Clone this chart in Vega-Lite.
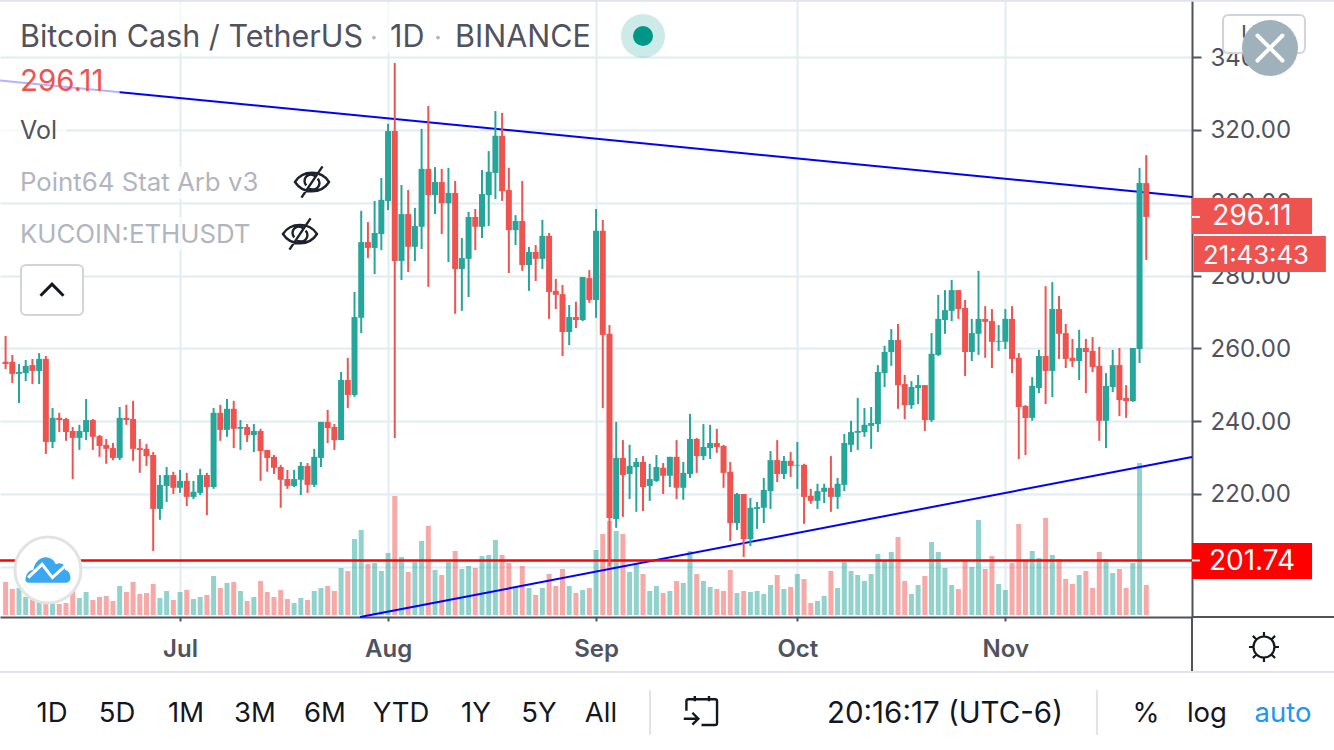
{
  "$schema": "https://vega.github.io/schema/vega-lite/v6.json",
  "width": 1192,
  "height": 617,
  "autosize": {"type": "none"},
  "padding": {"left": 0, "top": 0, "right": 142, "bottom": 133},
  "background": "#ffffff",
  "config": {"view": {"stroke": null}, "text": {"font": "Inter"}},
  "datasets": {
    "candles": [
      {"date":"2020-06-05","open":256.3,"high":263.4,"low":254.3,"close":255.7,"volume":33},
      {"date":"2020-06-06","open":256.3,"high":258.2,"low":250.5,"close":253.0,"volume":26},
      {"date":"2020-06-07","open":253.0,"high":255.7,"low":245.0,"close":253.5,"volume":27},
      {"date":"2020-06-08","open":253.2,"high":256.8,"low":251.0,"close":255.2,"volume":18},
      {"date":"2020-06-09","open":255.4,"high":257.1,"low":250.2,"close":253.8,"volume":17},
      {"date":"2020-06-10","open":253.8,"high":258.7,"low":250.2,"close":257.1,"volume":15},
      {"date":"2020-06-11","open":257.1,"high":257.9,"low":231.0,"close":234.3,"volume":13},
      {"date":"2020-06-12","open":234.3,"high":243.6,"low":232.6,"close":240.9,"volume":13},
      {"date":"2020-06-13","open":240.9,"high":242.3,"low":237.0,"close":240.3,"volume":11},
      {"date":"2020-06-14","open":240.6,"high":240.9,"low":234.6,"close":237.0,"volume":12},
      {"date":"2020-06-15","open":237.3,"high":238.4,"low":224.1,"close":235.4,"volume":25},
      {"date":"2020-06-16","open":235.4,"high":239.0,"low":232.1,"close":237.3,"volume":17},
      {"date":"2020-06-17","open":237.0,"high":246.1,"low":234.8,"close":240.3,"volume":23},
      {"date":"2020-06-18","open":240.3,"high":240.6,"low":232.1,"close":235.7,"volume":15},
      {"date":"2020-06-19","open":235.9,"high":236.2,"low":230.2,"close":233.2,"volume":18},
      {"date":"2020-06-20","open":233.5,"high":235.1,"low":228.3,"close":232.4,"volume":19},
      {"date":"2020-06-21","open":232.6,"high":234.0,"low":229.3,"close":229.9,"volume":14},
      {"date":"2020-06-22","open":229.9,"high":243.9,"low":229.3,"close":240.9,"volume":29},
      {"date":"2020-06-23","open":240.9,"high":244.5,"low":239.0,"close":240.3,"volume":23},
      {"date":"2020-06-24","open":240.6,"high":245.6,"low":229.1,"close":232.4,"volume":33},
      {"date":"2020-06-25","open":232.6,"high":235.1,"low":225.8,"close":232.1,"volume":21},
      {"date":"2020-06-26","open":232.4,"high":233.7,"low":227.7,"close":230.4,"volume":22},
      {"date":"2020-06-27","open":230.7,"high":231.5,"low":204.3,"close":215.9,"volume":31},
      {"date":"2020-06-28","open":215.9,"high":225.2,"low":212.9,"close":222.5,"volume":17},
      {"date":"2020-06-29","open":222.2,"high":227.4,"low":217.8,"close":225.2,"volume":24},
      {"date":"2020-06-30","open":225.2,"high":226.1,"low":220.0,"close":221.7,"volume":15},
      {"date":"2020-07-01","open":221.7,"high":226.6,"low":220.3,"close":223.6,"volume":23},
      {"date":"2020-07-02","open":223.6,"high":225.8,"low":216.7,"close":219.2,"volume":25},
      {"date":"2020-07-03","open":219.2,"high":223.6,"low":218.6,"close":220.6,"volume":16},
      {"date":"2020-07-04","open":220.3,"high":226.9,"low":219.7,"close":225.2,"volume":18},
      {"date":"2020-07-05","open":225.2,"high":225.8,"low":214.2,"close":221.9,"volume":20},
      {"date":"2020-07-06","open":221.9,"high":243.6,"low":221.4,"close":242.3,"volume":39},
      {"date":"2020-07-07","open":242.3,"high":244.5,"low":234.6,"close":237.6,"volume":27},
      {"date":"2020-07-08","open":237.6,"high":246.1,"low":235.7,"close":243.4,"volume":32},
      {"date":"2020-07-09","open":243.4,"high":245.6,"low":232.6,"close":237.9,"volume":33},
      {"date":"2020-07-10","open":237.9,"high":240.3,"low":232.1,"close":238.4,"volume":24},
      {"date":"2020-07-11","open":238.4,"high":239.2,"low":234.3,"close":236.2,"volume":14},
      {"date":"2020-07-12","open":236.2,"high":239.2,"low":231.5,"close":237.3,"volume":18},
      {"date":"2020-07-13","open":237.3,"high":237.9,"low":223.6,"close":231.8,"volume":34},
      {"date":"2020-07-14","open":232.1,"high":232.1,"low":226.1,"close":229.9,"volume":23},
      {"date":"2020-07-15","open":230.2,"high":230.7,"low":225.5,"close":227.2,"volume":18},
      {"date":"2020-07-16","open":227.4,"high":228.0,"low":216.2,"close":223.9,"volume":25},
      {"date":"2020-07-17","open":224.1,"high":226.6,"low":221.4,"close":222.2,"volume":16},
      {"date":"2020-07-18","open":222.2,"high":226.6,"low":221.9,"close":224.1,"volume":12},
      {"date":"2020-07-19","open":223.9,"high":228.8,"low":219.7,"close":227.7,"volume":17},
      {"date":"2020-07-20","open":227.7,"high":228.5,"low":220.3,"close":222.5,"volume":15},
      {"date":"2020-07-21","open":222.5,"high":232.4,"low":221.9,"close":230.2,"volume":24},
      {"date":"2020-07-22","open":229.9,"high":239.8,"low":227.4,"close":239.8,"volume":27},
      {"date":"2020-07-23","open":239.8,"high":243.1,"low":234.0,"close":238.1,"volume":29},
      {"date":"2020-07-24","open":238.4,"high":239.2,"low":232.1,"close":234.8,"volume":24},
      {"date":"2020-07-25","open":234.8,"high":253.5,"low":234.8,"close":251.3,"volume":47},
      {"date":"2020-07-26","open":251.3,"high":257.4,"low":243.6,"close":247.2,"volume":44},
      {"date":"2020-07-27","open":247.2,"high":275.5,"low":246.7,"close":268.6,"volume":76},
      {"date":"2020-07-28","open":268.4,"high":297.8,"low":264.2,"close":289.2,"volume":85},
      {"date":"2020-07-29","open":289.2,"high":294.7,"low":284.8,"close":287.6,"volume":51},
      {"date":"2020-07-30","open":287.6,"high":300.5,"low":280.4,"close":291.7,"volume":52},
      {"date":"2020-07-31","open":291.4,"high":306.8,"low":287.0,"close":300.8,"volume":44},
      {"date":"2020-08-01","open":300.5,"high":321.7,"low":298.0,"close":319.7,"volume":62},
      {"date":"2020-08-02","open":319.7,"high":338.4,"low":235.4,"close":284.0,"volume":119},
      {"date":"2020-08-03","open":284.0,"high":304.9,"low":278.8,"close":296.9,"volume":58},
      {"date":"2020-08-04","open":296.9,"high":303.5,"low":281.0,"close":287.9,"volume":43},
      {"date":"2020-08-05","open":287.9,"high":298.6,"low":284.0,"close":293.6,"volume":53},
      {"date":"2020-08-06","open":293.4,"high":320.3,"low":287.3,"close":309.3,"volume":74},
      {"date":"2020-08-07","open":309.3,"high":326.6,"low":276.9,"close":302.1,"volume":89},
      {"date":"2020-08-08","open":302.1,"high":309.8,"low":296.9,"close":305.7,"volume":45},
      {"date":"2020-08-09","open":305.7,"high":309.3,"low":291.4,"close":299.9,"volume":40},
      {"date":"2020-08-10","open":299.9,"high":309.6,"low":283.7,"close":302.7,"volume":53},
      {"date":"2020-08-11","open":302.7,"high":306.0,"low":269.5,"close":281.8,"volume":64},
      {"date":"2020-08-12","open":281.8,"high":290.3,"low":270.3,"close":284.8,"volume":46},
      {"date":"2020-08-13","open":284.6,"high":297.5,"low":274.1,"close":296.1,"volume":49},
      {"date":"2020-08-14","open":296.1,"high":298.3,"low":287.0,"close":293.4,"volume":47},
      {"date":"2020-08-15","open":293.4,"high":309.0,"low":290.3,"close":302.4,"volume":59},
      {"date":"2020-08-16","open":302.1,"high":314.2,"low":293.6,"close":308.5,"volume":60},
      {"date":"2020-08-17","open":308.2,"high":325.2,"low":301.0,"close":318.4,"volume":75},
      {"date":"2020-08-18","open":318.4,"high":324.7,"low":300.5,"close":303.2,"volume":60},
      {"date":"2020-08-19","open":303.5,"high":309.6,"low":280.7,"close":292.5,"volume":52},
      {"date":"2020-08-20","open":292.5,"high":296.6,"low":288.4,"close":295.0,"volume":28},
      {"date":"2020-08-21","open":295.0,"high":306.0,"low":281.3,"close":282.9,"volume":49},
      {"date":"2020-08-22","open":282.9,"high":287.9,"low":275.8,"close":286.5,"volume":27},
      {"date":"2020-08-23","open":286.5,"high":288.4,"low":278.5,"close":284.6,"volume":20},
      {"date":"2020-08-24","open":284.6,"high":295.3,"low":281.8,"close":290.9,"volume":27},
      {"date":"2020-08-25","open":290.9,"high":291.7,"low":268.1,"close":275.5,"volume":41},
      {"date":"2020-08-26","open":275.8,"high":279.1,"low":270.8,"close":274.7,"volume":29},
      {"date":"2020-08-27","open":274.9,"high":277.4,"low":257.9,"close":264.5,"volume":46},
      {"date":"2020-08-28","open":264.5,"high":271.9,"low":260.9,"close":268.6,"volume":29},
      {"date":"2020-08-29","open":268.6,"high":272.8,"low":265.6,"close":267.8,"volume":22},
      {"date":"2020-08-30","open":267.8,"high":279.6,"low":267.5,"close":279.6,"volume":25},
      {"date":"2020-08-31","open":279.3,"high":281.5,"low":272.5,"close":273.3,"volume":27},
      {"date":"2020-09-01","open":273.3,"high":298.3,"low":268.4,"close":292.3,"volume":65},
      {"date":"2020-09-02","open":292.3,"high":295.3,"low":243.6,"close":263.7,"volume":81},
      {"date":"2020-09-03","open":264.0,"high":266.4,"low":200.2,"close":213.4,"volume":94},
      {"date":"2020-09-04","open":213.1,"high":239.8,"low":210.7,"close":229.9,"volume":84},
      {"date":"2020-09-05","open":229.9,"high":234.8,"low":213.7,"close":225.2,"volume":81},
      {"date":"2020-09-06","open":225.5,"high":233.5,"low":218.6,"close":227.7,"volume":43},
      {"date":"2020-09-07","open":227.4,"high":229.9,"low":215.1,"close":228.8,"volume":51},
      {"date":"2020-09-08","open":228.8,"high":230.4,"low":215.3,"close":221.9,"volume":41},
      {"date":"2020-09-09","open":222.2,"high":228.3,"low":218.1,"close":224.1,"volume":24},
      {"date":"2020-09-10","open":223.6,"high":230.7,"low":223.3,"close":227.4,"volume":29},
      {"date":"2020-09-11","open":227.2,"high":228.5,"low":220.0,"close":225.0,"volume":22},
      {"date":"2020-09-12","open":225.0,"high":230.2,"low":221.9,"close":230.2,"volume":24},
      {"date":"2020-09-13","open":230.2,"high":234.8,"low":218.6,"close":221.7,"volume":34},
      {"date":"2020-09-14","open":221.7,"high":228.8,"low":218.4,"close":225.8,"volume":32},
      {"date":"2020-09-15","open":225.5,"high":242.0,"low":224.4,"close":235.1,"volume":64},
      {"date":"2020-09-16","open":235.1,"high":235.4,"low":225.8,"close":230.4,"volume":41},
      {"date":"2020-09-17","open":230.4,"high":239.2,"low":229.3,"close":232.9,"volume":34},
      {"date":"2020-09-18","open":232.6,"high":239.0,"low":229.6,"close":234.0,"volume":28},
      {"date":"2020-09-19","open":234.0,"high":237.9,"low":231.3,"close":232.9,"volume":26},
      {"date":"2020-09-20","open":233.2,"high":233.5,"low":221.7,"close":225.8,"volume":24},
      {"date":"2020-09-21","open":226.1,"high":228.8,"low":207.1,"close":212.0,"volume":45},
      {"date":"2020-09-22","open":212.0,"high":220.3,"low":210.1,"close":220.0,"volume":22},
      {"date":"2020-09-23","open":220.0,"high":220.0,"low":202.7,"close":207.6,"volume":24},
      {"date":"2020-09-24","open":207.6,"high":218.9,"low":205.7,"close":216.2,"volume":23},
      {"date":"2020-09-25","open":215.9,"high":217.8,"low":210.4,"close":216.4,"volume":24},
      {"date":"2020-09-26","open":216.2,"high":224.4,"low":212.0,"close":221.1,"volume":21},
      {"date":"2020-09-27","open":220.8,"high":231.8,"low":215.9,"close":229.3,"volume":30},
      {"date":"2020-09-28","open":229.3,"high":234.8,"low":223.3,"close":225.5,"volume":40},
      {"date":"2020-09-29","open":225.5,"high":230.4,"low":224.1,"close":229.1,"volume":26},
      {"date":"2020-09-30","open":229.1,"high":231.5,"low":224.7,"close":227.7,"volume":28},
      {"date":"2020-10-01","open":227.8,"high":234.3,"low":221.4,"close":228.0,"volume":41},
      {"date":"2020-10-02","open":228.0,"high":228.3,"low":211.8,"close":219.2,"volume":36},
      {"date":"2020-10-03","open":219.5,"high":221.4,"low":217.3,"close":218.1,"volume":12},
      {"date":"2020-10-04","open":218.1,"high":222.8,"low":215.9,"close":220.8,"volume":14},
      {"date":"2020-10-05","open":220.6,"high":222.8,"low":217.5,"close":221.7,"volume":19},
      {"date":"2020-10-06","open":221.7,"high":230.4,"low":215.1,"close":219.2,"volume":44},
      {"date":"2020-10-07","open":219.2,"high":224.4,"low":215.9,"close":222.8,"volume":27},
      {"date":"2020-10-08","open":222.5,"high":236.5,"low":220.8,"close":234.0,"volume":53},
      {"date":"2020-10-09","open":233.5,"high":240.1,"low":231.5,"close":237.0,"volume":44},
      {"date":"2020-10-10","open":236.8,"high":246.4,"low":232.1,"close":237.3,"volume":40},
      {"date":"2020-10-11","open":237.0,"high":243.6,"low":235.7,"close":239.0,"volume":34},
      {"date":"2020-10-12","open":238.7,"high":243.9,"low":232.4,"close":239.5,"volume":41},
      {"date":"2020-10-13","open":239.2,"high":255.4,"low":237.0,"close":253.5,"volume":61},
      {"date":"2020-10-14","open":253.2,"high":260.7,"low":249.4,"close":259.0,"volume":54},
      {"date":"2020-10-15","open":259.0,"high":265.3,"low":255.2,"close":262.3,"volume":63},
      {"date":"2020-10-16","open":262.3,"high":266.7,"low":243.4,"close":249.9,"volume":78},
      {"date":"2020-10-17","open":250.2,"high":252.7,"low":240.6,"close":244.4,"volume":34},
      {"date":"2020-10-18","open":244.4,"high":251.0,"low":243.4,"close":249.4,"volume":21},
      {"date":"2020-10-19","open":249.1,"high":252.7,"low":244.7,"close":249.9,"volume":30},
      {"date":"2020-10-20","open":249.9,"high":249.9,"low":237.3,"close":240.3,"volume":39},
      {"date":"2020-10-21","open":240.3,"high":264.2,"low":239.8,"close":258.5,"volume":73},
      {"date":"2020-10-22","open":258.2,"high":274.7,"low":257.9,"close":268.1,"volume":63},
      {"date":"2020-10-23","open":267.8,"high":276.0,"low":264.0,"close":270.5,"volume":47},
      {"date":"2020-10-24","open":270.3,"high":278.8,"low":267.5,"close":276.0,"volume":30},
      {"date":"2020-10-25","open":276.0,"high":276.0,"low":268.1,"close":270.8,"volume":26},
      {"date":"2020-10-26","open":271.1,"high":273.3,"low":252.4,"close":259.0,"volume":54},
      {"date":"2020-10-27","open":259.0,"high":268.1,"low":256.5,"close":264.2,"volume":48},
      {"date":"2020-10-28","open":264.0,"high":281.3,"low":258.2,"close":268.1,"volume":95},
      {"date":"2020-10-29","open":268.1,"high":271.6,"low":257.4,"close":267.3,"volume":46},
      {"date":"2020-10-30","open":267.5,"high":270.8,"low":254.6,"close":261.8,"volume":59},
      {"date":"2020-10-31","open":261.8,"high":266.4,"low":259.3,"close":262.0,"volume":31},
      {"date":"2020-11-01","open":261.8,"high":270.8,"low":259.8,"close":268.1,"volume":25},
      {"date":"2020-11-02","open":268.1,"high":271.6,"low":253.2,"close":257.1,"volume":52},
      {"date":"2020-11-03","open":257.4,"high":258.7,"low":229.6,"close":243.9,"volume":91},
      {"date":"2020-11-04","open":244.2,"high":244.4,"low":230.7,"close":240.9,"volume":54},
      {"date":"2020-11-05","open":240.9,"high":252.1,"low":240.1,"close":249.7,"volume":64},
      {"date":"2020-11-06","open":249.1,"high":259.6,"low":247.7,"close":257.9,"volume":57},
      {"date":"2020-11-07","open":257.9,"high":277.1,"low":244.7,"close":253.8,"volume":97},
      {"date":"2020-11-08","open":253.8,"high":278.2,"low":246.6,"close":270.8,"volume":60},
      {"date":"2020-11-09","open":270.8,"high":274.4,"low":257.1,"close":264.0,"volume":56},
      {"date":"2020-11-10","open":264.2,"high":266.7,"low":254.6,"close":257.1,"volume":36},
      {"date":"2020-11-11","open":257.4,"high":262.6,"low":254.9,"close":256.5,"volume":31},
      {"date":"2020-11-12","open":256.5,"high":265.1,"low":251.3,"close":260.1,"volume":40},
      {"date":"2020-11-13","open":260.1,"high":262.6,"low":247.7,"close":259.0,"volume":44},
      {"date":"2020-11-14","open":259.3,"high":263.1,"low":253.5,"close":254.9,"volume":27},
      {"date":"2020-11-15","open":255.2,"high":260.4,"low":234.6,"close":240.1,"volume":63},
      {"date":"2020-11-16","open":240.1,"high":253.2,"low":232.6,"close":249.7,"volume":56},
      {"date":"2020-11-17","open":249.4,"high":259.6,"low":248.0,"close":255.4,"volume":42},
      {"date":"2020-11-18","open":255.4,"high":260.1,"low":241.4,"close":245.8,"volume":46},
      {"date":"2020-11-19","open":246.4,"high":249.9,"low":240.9,"close":245.5,"volume":27},
      {"date":"2020-11-20","open":245.5,"high":260.1,"low":245.3,"close":260.1,"volume":52},
      {"date":"2020-11-21","open":259.8,"high":309.6,"low":256.0,"close":305.4,"volume":152},
      {"date":"2020-11-22","open":305.4,"high":313.1,"low":284.3,"close":296.11,"volume":30}
    ]
  },
  "encoding": {
    "x": {
      "field": "date",
      "type": "temporal",
      "title": null,
      "scale": {"type": "utc", "domain": [1591243200000, 1606592160000], "padding": 0},
      "axis": {
        "values": [1593561600000, 1596240000000, 1598918400000, 1601510400000, 1604188800000],
        "labelExpr": "utcFormat(datum.value, '%b')",
        "grid": true,
        "gridColor": "#e1ecf2",
        "gridWidth": 2,
        "domainColor": "#50535e",
        "domainWidth": 2,
        "tickColor": "#50535e",
        "tickWidth": 2,
        "tickSize": 4,
        "labelColor": "#50535e",
        "labelFont": "Inter",
        "labelFontSize": 24,
        "labelFontWeight": 600,
        "labelPadding": 16
      }
    }
  },
  "resolve": {"scale": {"y": "independent"}},
  "layer": [
    {
      "data": {"name": "candles"},
      "mark": {"type": "point", "opacity": 0},
      "encoding": {
        "y": {
          "field": "close",
          "type": "quantitative",
          "title": null,
          "scale": {"domain": [186.2, 355.71], "nice": false, "zero": false},
          "axis": {
            "orient": "right",
            "values": [200, 220, 240, 260, 280, 300, 320, 340],
            "format": ".2f",
            "grid": true,
            "gridColor": "#e1ecf2",
            "gridWidth": 2,
            "domainColor": "#50535e",
            "domainWidth": 2,
            "tickColor": "#50535e",
            "tickWidth": 2,
            "tickSize": 9,
            "labelColor": "#50535e",
            "labelFont": "Inter",
            "labelFontSize": 24,
            "labelPadding": 9,
            "labelOffset": 1
          }
        }
      }
    },
    {
      "data": {"name": "candles"},
      "mark": {"type": "bar", "size": 5, "opacity": 0.5},
      "encoding": {
        "y": {
          "field": "volume",
          "type": "quantitative",
          "axis": null,
          "stack": null,
          "scale": {"domain": [0, 615], "range": [615, 0], "nice": false}
        },
        "color": {"condition": {"test": "datum.close >= datum.open", "value": "#26a69a"}, "value": "#ef5350"}
      }
    },
    {
      "encoding": {
        "y": {
          "field": "price",
          "type": "quantitative",
          "title": null,
          "axis": null,
          "scale": {"domain": [186.2, 355.71], "nice": false, "zero": false}
        }
      },
      "layer": [
        {
          "data": {"values": [
            {"date": "2020-06-04T04:00Z", "price": 333.6},
            {"date": "2020-11-28T19:36Z", "price": 301.6}
          ]},
          "mark": {"type": "line", "color": "#0000ff", "strokeWidth": 2},
          "encoding": {}
        },
        {
          "data": {"values": [
            {"date": "2020-07-27T19:40Z", "price": 186.2},
            {"date": "2020-11-28T19:36Z", "price": 230.16}
          ]},
          "mark": {"type": "line", "color": "#0000ff", "strokeWidth": 2},
          "encoding": {}
        },
        {
          "data": {"values": [{"date": "2020-06-04T04:00Z", "end": "2020-11-28T19:36Z", "price": 201.74}]},
          "mark": {"type": "rule", "color": "#ff0000", "strokeWidth": 2.4},
          "encoding": {"x2": {"field": "end"}}
        },
        {
          "data": {"name": "candles"},
          "mark": {"type": "rule", "strokeWidth": 2},
          "encoding": {
            "y": {"field": "high", "type": "quantitative"},
            "y2": {"field": "low"},
            "color": {"condition": {"test": "datum.close >= datum.open", "value": "#26a69a"}, "value": "#ef5350"}
          }
        },
        {
          "data": {"name": "candles"},
          "mark": {"type": "bar", "size": 6},
          "encoding": {
            "y": {"field": "open", "type": "quantitative"},
            "y2": {"field": "close"},
            "color": {"condition": {"test": "datum.close >= datum.open", "value": "#26a69a"}, "value": "#ef5350"}
          }
        },
        {
          "data": {"values": [
            {"date": "2020-06-04T04:00Z", "end": "2020-06-22T00:00Z", "price": 337.0, "price2": 328.0},
            {"date": "2020-06-04T04:00Z", "end": "2020-06-14T00:00Z", "price": 324.0, "price2": 316.0},
            {"date": "2020-06-04T04:00Z", "end": "2020-07-13T00:00Z", "price": 310.0, "price2": 301.0},
            {"date": "2020-06-04T04:00Z", "end": "2020-07-11T00:00Z", "price": 296.0, "price2": 287.0},
            {"date": "2020-06-04T04:00Z", "end": "2020-08-20T00:00Z", "price": 355.0, "price2": 341.0}
          ]},
          "mark": {"type": "rect", "color": "#ffffff", "opacity": 0.7},
          "encoding": {"x2": {"field": "end"}, "y2": {"field": "price2"}}
        },
        {
          "data": {"values": [
            {"date": "2020-12-03T10:30Z", "end": "2020-12-15T15:30Z", "price": 351.59, "price2": 341.15}
          ]},
          "mark": {"type": "rect", "fill": "#ffffff", "stroke": "#d1d4dc", "strokeWidth": 2, "cornerRadius": 5},
          "encoding": {"x2": {"field": "end"}, "y2": {"field": "price2"}}
        },
        {
          "data": {"values": [{"date": "2020-12-09T13:00Z", "price": 346.37, "label": "UTC"}]},
          "mark": {"type": "text", "fontSize": 22, "color": "#50535e", "align": "center", "baseline": "middle"},
          "encoding": {"text": {"field": "label"}}
        },
        {
          "data": {"values": [{"date": "2020-12-10T10:30Z", "price": 342.52}]},
          "mark": {"type": "point", "shape": "circle", "filled": true, "color": "#9fb1bb", "opacity": 1, "size": 3136},
          "encoding": {}
        },
        {
          "data": {"values": [{"date": "2020-12-10T10:30Z", "price": 342.52}]},
          "mark": {"type": "point", "shape": "M-1,-1L1,1M-1,1L1,-1", "filled": false, "stroke": "#ffffff", "strokeWidth": 4, "strokeCap": "round", "opacity": 1, "size": 625},
          "encoding": {}
        },
        {
          "data": {"values": [
            {"date": "2020-11-28T19:30Z", "end": "2020-12-16T17:00Z", "price": 301.31, "price2": 291.42},
            {"date": "2020-11-28T19:30Z", "end": "2020-12-16T17:00Z", "price": 206.53, "price2": 196.64, "level": "alert"}
          ]},
          "mark": {"type": "rect"},
          "encoding": {
            "x2": {"field": "end"},
            "y2": {"field": "price2"},
            "color": {"condition": {"test": "datum.level === 'alert'", "value": "#ff0000"}, "value": "#ef5350"}
          }
        },
        {
          "data": {"values": [{"date": "2020-11-29T02:30Z", "end": "2020-12-18T18:30Z", "price": 290.87, "price2": 280.98}]},
          "mark": {"type": "rect", "color": "#ef5350"},
          "encoding": {"x2": {"field": "end"}, "y2": {"field": "price2"}}
        },
        {
          "data": {"values": [
            {"date": "2020-11-28T19:36Z", "end": "2020-11-30T00:00Z", "price": 296.11},
            {"date": "2020-11-28T19:36Z", "end": "2020-11-30T00:00Z", "price": 201.74}
          ]},
          "mark": {"type": "rule", "color": "#ffffff", "strokeWidth": 2},
          "encoding": {"x2": {"field": "end"}}
        },
        {
          "data": {"values": [
            {"date": "2020-12-07T18:00Z", "price": 296.11, "label": "296.11"},
            {"date": "2020-12-07T18:00Z", "price": 201.3, "label": "201.74"}
          ]},
          "mark": {"type": "text", "fontSize": 28, "color": "#ffffff", "align": "center", "baseline": "middle"},
          "encoding": {"text": {"field": "label"}}
        },
        {
          "data": {"values": [{"date": "2020-12-08T08:30Z", "price": 285.4, "label": "21:43:43"}]},
          "mark": {"type": "text", "fontSize": 25.7, "color": "#ffffff", "align": "center", "baseline": "middle"},
          "encoding": {"text": {"field": "label"}}
        },
        {
          "data": {"values": [
            {"date": "2020-11-28T19:36Z", "end": "2020-12-19T23:30Z", "price": 186.2}
          ]},
          "mark": {"type": "rule", "color": "#50535e", "strokeWidth": 2},
          "encoding": {"x2": {"field": "end"}}
        },
        {
          "data": {"values": [{"date": "2020-11-28T19:36Z", "price": 186.2, "price2": 171.09}]},
          "mark": {"type": "rule", "color": "#50535e", "strokeWidth": 2},
          "encoding": {"y2": {"field": "price2"}}
        },
        {
          "data": {"values": [
            {"date": "2020-06-04T04:00Z", "end": "2020-12-19T23:30Z", "price": 171.09},
            {"date": "2020-06-04T04:00Z", "end": "2020-12-19T23:30Z", "price": 355.5}
          ]},
          "mark": {"type": "rule", "color": "#e0e3eb", "strokeWidth": 2},
          "encoding": {"x2": {"field": "end"}}
        },
        {
          "data": {"values": [
            {"date": "2020-09-09T01:00Z", "price": 166.1, "price2": 153.8},
            {"date": "2020-11-14T16:00Z", "price": 166.1, "price2": 153.8}
          ]},
          "mark": {"type": "rule", "color": "#e0e3eb", "strokeWidth": 2},
          "encoding": {"y2": {"field": "price2"}}
        },
        {
          "data": {"values": [
            {"date": "2020-06-07T03:30Z", "price": 345.2, "label": "Bitcoin Cash / TetherUS"},
            {"date": "2020-08-01T07:00Z", "price": 345.2, "label": "1D"},
            {"date": "2020-08-10T23:30Z", "price": 345.2, "label": "BINANCE"}
          ]},
          "mark": {"type": "text", "fontSize": 30.5, "color": "#50535e", "align": "left", "baseline": "middle"},
          "encoding": {"text": {"field": "label"}}
        },
        {
          "data": {"values": [
            {"date": "2020-07-29T21:30Z", "price": 345.4},
            {"date": "2020-08-08T10:30Z", "price": 345.4}
          ]},
          "mark": {"type": "point", "shape": "circle", "filled": true, "color": "#b2b5be", "opacity": 1, "size": 14},
          "encoding": {}
        },
        {
          "data": {"values": [{"date": "2020-06-07T03:30Z", "price": 333.2, "label": "296.11"}]},
          "mark": {"type": "text", "fontSize": 29.5, "color": "#ef5350", "align": "left", "baseline": "middle"},
          "encoding": {"text": {"field": "label"}}
        },
        {
          "data": {"values": [{"date": "2020-06-07T03:30Z", "price": 319.7, "label": "Vol"}]},
          "mark": {"type": "text", "fontSize": 25, "color": "#50535e", "align": "left", "baseline": "middle"},
          "encoding": {"text": {"field": "label"}}
        },
        {
          "data": {"values": [
            {"date": "2020-06-07T03:30Z", "price": 305.45, "label": "Point64 Stat Arb v3"},
            {"date": "2020-06-07T03:30Z", "price": 291.15, "label": "KUCOIN:ETHUSDT"}
          ]},
          "mark": {"type": "text", "fontSize": 25.8, "color": "#b2b5be", "align": "left", "baseline": "middle"},
          "encoding": {"text": {"field": "label"}}
        },
        {
          "data": {"values": [
            {"date": "2020-07-20T16:00Z", "price": 305.71},
            {"date": "2020-07-18T21:00Z", "price": 291.42}
          ]},
          "mark": {"type": "point", "shape": "M-1,0C-0.55,-0.72 0.55,-0.72 1,0C0.55,0.72 -0.55,0.72 -1,0ZM0.62,-0.92L-0.62,0.92M-0.33,0.2A0.35,0.35 0 0 1 0.2,-0.33M0.33,-0.2A0.35,0.35 0 0 1 -0.2,0.33", "filled": false, "stroke": "#1e222d", "strokeWidth": 2.4, "opacity": 1, "size": 1156},
          "encoding": {}
        },
        {
          "data": {"values": [{"date": "2020-06-07T07:00Z", "end": "2020-06-16T13:00Z", "price": 282.91, "price2": 269.17}]},
          "mark": {"type": "rect", "fill": "#ffffff", "stroke": "#d1d4dc", "strokeWidth": 2, "cornerRadius": 5},
          "encoding": {"x2": {"field": "end"}, "y2": {"field": "price2"}}
        },
        {
          "data": {"values": [{"date": "2020-06-11T22:00Z", "price": 276.04}]},
          "mark": {"type": "point", "shape": "M-1,0.5L0,-0.5L1,0.5", "filled": false, "stroke": "#131722", "strokeWidth": 3, "opacity": 1, "size": 529},
          "encoding": {}
        },
        {
          "data": {"values": [{"date": "2020-09-08T00:00Z", "price": 345.82}]},
          "mark": {"type": "point", "shape": "circle", "filled": true, "color": "#009688", "opacity": 0.2, "size": 1936},
          "encoding": {}
        },
        {
          "data": {"values": [{"date": "2020-09-08T00:00Z", "price": 345.82}]},
          "mark": {"type": "point", "shape": "circle", "filled": true, "color": "#009688", "opacity": 1, "size": 400},
          "encoding": {}
        },
        {
          "data": {"values": [{"date": "2020-06-11T07:30Z", "price": 199.12}]},
          "mark": {"type": "point", "shape": "circle", "filled": true, "fill": "#ffffff", "stroke": "#e3e3e3", "strokeWidth": 3, "opacity": 1, "size": 4356},
          "encoding": {}
        },
        {
          "data": {"values": [{"date": "2020-06-11T07:30Z", "price": 199.12}]},
          "mark": {"type": "point", "shape": "M-1,0.45C-1,0.2 -0.85,0 -0.65,0C-0.6,-0.35 -0.35,-0.57 -0.1,-0.57C0.15,-0.57 0.3,-0.4 0.35,-0.25C0.6,-0.4 0.8,-0.2 0.75,0C0.95,0 1,0.25 1,0.35C1,0.5 0.9,0.57 0.8,0.57L-0.85,0.57C-0.95,0.57 -1,0.5 -1,0.45Z", "filled": true, "color": "#3ba7f0", "opacity": 1, "size": 2025},
          "encoding": {}
        },
        {
          "data": {"values": [{"date": "2020-06-11T07:30Z", "price": 199.12}]},
          "mark": {"type": "point", "shape": "M-0.88,0.34L-0.26,-0.25L0.2,0.34L0.84,-0.25", "filled": false, "stroke": "#ffffff", "strokeWidth": 3, "opacity": 1, "size": 2025},
          "encoding": {}
        },
        {
          "data": {"values": [{"date": "2020-12-09T13:00Z", "price": 177.96}]},
          "mark": {"type": "point", "shape": "M0.7,0A0.7,0.7 0 1 1 -0.7,0A0.7,0.7 0 1 1 0.7,0ZM0,-1L0,-0.7M0,1L0,0.7M1,0L0.7,0M-1,0L-0.7,0M0.74,-0.74L0.5,-0.5M-0.74,-0.74L-0.5,-0.5M0.74,0.74L0.5,0.5M-0.74,0.74L-0.5,0.5", "filled": false, "stroke": "#131722", "strokeWidth": 2.2, "opacity": 1, "size": 900},
          "encoding": {}
        },
        {
          "data": {"values": [{"date": "2020-09-16T12:00Z", "price": 160.38}]},
          "mark": {"type": "point", "shape": "M-0.78,-0.02L-0.78,-0.55Q-0.78,-0.67 -0.66,-0.67L0.85,-0.67Q0.97,-0.67 0.97,-0.55L0.97,0.68Q0.97,0.8 0.85,0.8L0.08,0.8M-0.93,0.44L-0.1,0.44M-0.44,0.1L-0.1,0.44L-0.44,0.78M-0.3,-0.86L-0.3,-0.55M0.51,-0.86L0.51,-0.55", "filled": false, "stroke": "#131722", "strokeWidth": 2.4, "opacity": 1, "size": 1225},
          "encoding": {}
        },
        {
          "data": {"values": [
            {"date": "2020-06-11T22:00Z", "price": 159.6, "label": "1D"},
            {"date": "2020-06-21T14:30Z", "price": 159.6, "label": "5D"},
            {"date": "2020-07-01T21:30Z", "price": 159.6, "label": "1M"},
            {"date": "2020-07-12T04:00Z", "price": 159.6, "label": "3M"},
            {"date": "2020-07-22T14:30Z", "price": 159.6, "label": "6M"},
            {"date": "2020-08-02T22:30Z", "price": 159.6, "label": "YTD"},
            {"date": "2020-08-14T02:30Z", "price": 159.6, "label": "1Y"},
            {"date": "2020-08-23T12:00Z", "price": 159.6, "label": "5Y"},
            {"date": "2020-09-01T17:30Z", "price": 159.6, "label": "All"},
            {"date": "2020-11-21T23:00Z", "price": 159.6, "label": "%"},
            {"date": "2020-12-01T01:00Z", "price": 159.6, "label": "log"}
          ]},
          "mark": {"type": "text", "fontSize": 27.5, "color": "#131722", "align": "center", "baseline": "middle"},
          "encoding": {"text": {"field": "label"}}
        },
        {
          "data": {"values": [{"date": "2020-10-23T00:00Z", "price": 159.6, "label": "20:16:17 (UTC-6)"}]},
          "mark": {"type": "text", "fontSize": 29.5, "color": "#131722", "align": "center", "baseline": "middle"},
          "encoding": {"text": {"field": "label"}}
        },
        {
          "data": {"values": [{"date": "2020-12-12T09:00Z", "price": 159.6, "label": "auto"}]},
          "mark": {"type": "text", "fontSize": 27.5, "color": "#2196f3", "align": "center", "baseline": "middle"},
          "encoding": {"text": {"field": "label"}}
        }
      ]
    }
  ]
}
